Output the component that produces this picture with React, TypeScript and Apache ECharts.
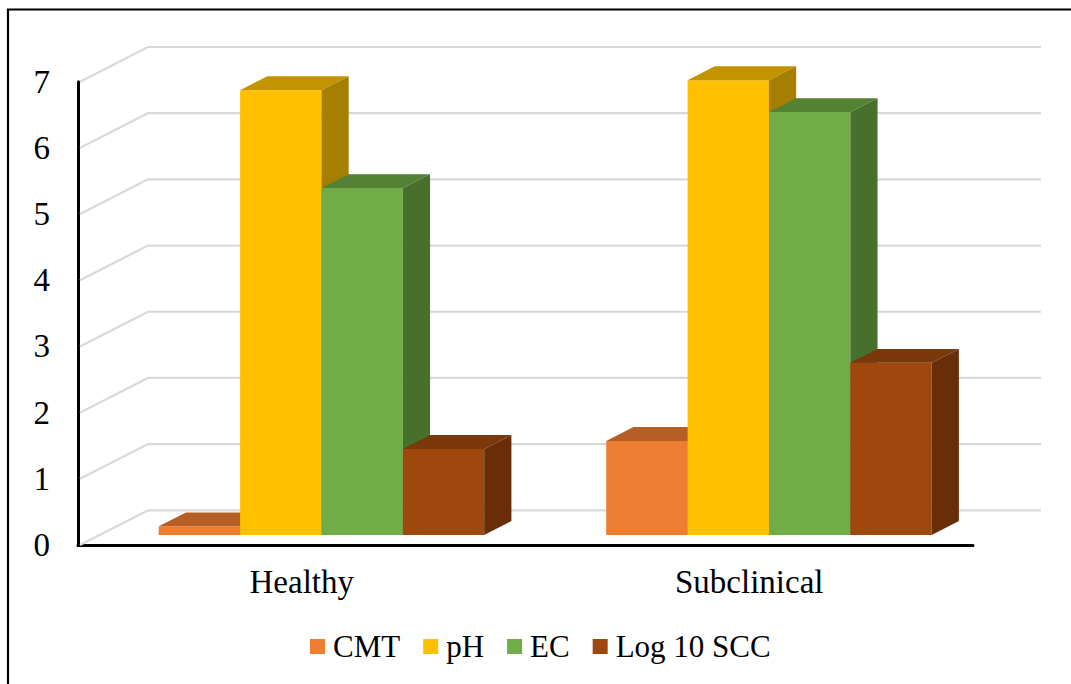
import React, { useEffect, useRef } from "react";
import * as echarts from "echarts";

const categories = ["Healthy", "Subclinical"];
const seriesNames = ["CMT", "pH", "EC", "Log 10 SCC"];
const cmtValues = [0.13, 1.42];
const phValues = [6.72, 6.87];
const ecValues = [5.24, 6.39];
const sccValues = [1.3, 2.6];
const yTicks = [0, 1, 2, 3, 4, 5, 6, 7];

const frontColors = ["#ED7D31", "#FFC000", "#70AD47", "#9E480E"];
const topColors = ["#B65E23", "#C49300", "#548235", "#7A380B"];
const sideColors = ["#9C501C", "#A67E00", "#48702D", "#692E08"];

const FONT = "'Liberation Serif', 'Times New Roman', serif";
const DX = 68;
const DY = -34.7;
const F1 = 0.29;
const DEPTH = 0.4;

export default function App() {
  const ref = useRef<HTMLDivElement>(null);
  useEffect(() => {
    if (!ref.current) return;
    const chart = echarts.init(ref.current, undefined, { renderer: "svg" });
    const allValues = [cmtValues, phValues, ecValues, sccValues];

    const barSeries = seriesNames.map((name, k) => ({
      type: "custom",
      name,
      z: 3 + k,
      itemStyle: { color: frontColors[k] },
      data: categories.map((_, i) => [i, allValues[k][i]]),
      encode: { x: 0, y: 1 },
      renderItem: (params: any, api: any) => {
        const cat = api.value(0);
        const val = api.value(1);
        const catW = api.size([1, 0])[0];
        const bw = catW / 5.5;
        const base = api.coord([cat, 0]);
        const top = api.coord([cat, val]);
        const fx = F1 * DX;
        const fy = F1 * DY;
        const ddx = DEPTH * DX;
        const ddy = DEPTH * DY;
        const x0 = base[0] - 2 * bw + k * bw + fx;
        const x1 = x0 + bw;
        const yb = base[1] + fy;
        const yt = top[1] + fy;
        return {
          type: "group",
          children: [
            {
              type: "polygon",
              shape: { points: [[x0, yt], [x1, yt], [x1, yb], [x0, yb]] },
              style: { fill: frontColors[k] },
            },
            {
              type: "polygon",
              shape: {
                points: [[x0, yt], [x1, yt], [x1 + ddx, yt + ddy], [x0 + ddx, yt + ddy]],
              },
              style: { fill: topColors[k] },
            },
            {
              type: "polygon",
              shape: {
                points: [[x1, yt], [x1 + ddx, yt + ddy], [x1 + ddx, yb + ddy], [x1, yb]],
              },
              style: { fill: sideColors[k] },
            },
          ],
        };
      },
    }));

    const gridSeries = {
      type: "custom",
      name: "grid3d",
      z: 1,
      silent: true,
      data: yTicks.map((v) => [0, v]),
      encode: { x: 0, y: 1 },
      renderItem: (params: any, api: any) => {
        const v = api.value(1);
        const catW = api.size([1, 0])[0];
        const c0 = api.coord([0, v]);
        const c1 = api.coord([1, v]);
        const left = c0[0] - catW / 2 + 2;
        const right = c1[0] + catW / 2;
        const y = c0[1];
        return {
          type: "polyline",
          shape: {
            points: [[left, y], [left + DX, y + DY], [right + DX, y + DY]],
          },
          style: { stroke: "#D9D9D9", lineWidth: 2.2, fill: "none" },
        };
      },
    };

    chart.setOption({
      animation: false,
      textStyle: { fontFamily: FONT },
      graphic: [
        {
          type: "rect",
          shape: { x: 8, y: 9.5, width: 1200, height: 800 },
          style: { fill: "none", stroke: "#000", lineWidth: 2.2 },
          z: 100,
          silent: true,
        },
      ],
      grid: { left: 78, right: 98, top: 81.7, bottom: 139 },
      legend: {
        data: seriesNames,
        left: 305,
        top: 626,
        itemWidth: 15,
        itemHeight: 15,
        itemGap: 23,
        icon: "rect",
        textStyle: {
          fontFamily: FONT,
          fontSize: 31,
          color: "#000",
          padding: [0, 0, 0, 3],
        },
      },
      xAxis: {
        type: "category",
        data: categories,
        axisLine: { show: true, lineStyle: { color: "#000", width: 3 } },
        axisTick: { show: false },
        axisLabel: { fontFamily: FONT, fontSize: 33, color: "#000", margin: 20 },
        splitLine: { show: false },
      },
      yAxis: {
        type: "value",
        min: 0,
        max: 7,
        interval: 1,
        axisLine: { show: true, lineStyle: { color: "#000", width: 3 } },
        axisTick: { show: false },
        axisLabel: { fontFamily: FONT, fontSize: 33, color: "#000", margin: 28 },
        splitLine: { show: false },
      },
      series: [gridSeries, ...barSeries],
    });
    return () => chart.dispose();
  }, []);

  return (
    <div
      ref={ref}
      style={{ position: "absolute", left: 0, top: 0, width: 1071, height: 684, background: "#fff" }}
    />
  );
}
